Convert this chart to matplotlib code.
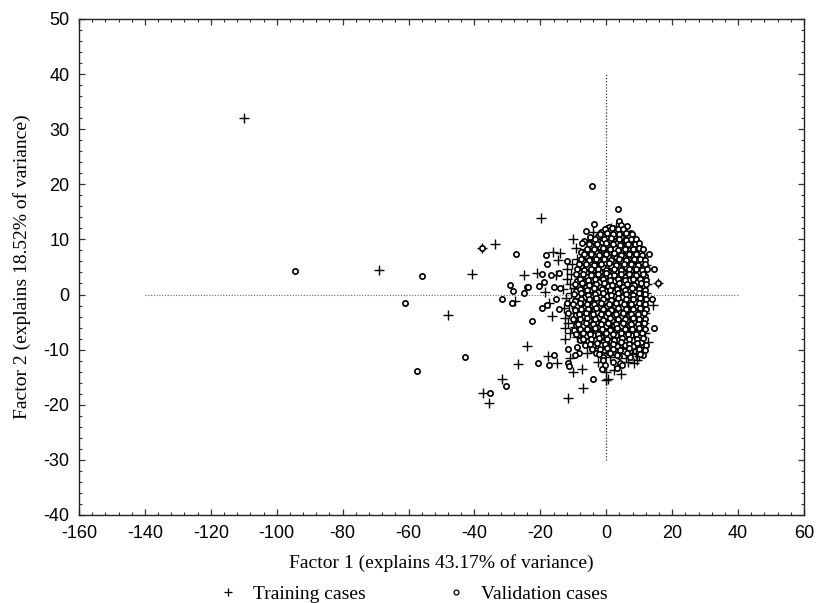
import numpy as np
import matplotlib
matplotlib.use("Agg")
import matplotlib.pyplot as plt
from matplotlib.ticker import MultipleLocator
from matplotlib.lines import Line2D

plt.rcParams["axes.unicode_minus"] = False

# outlying cases
trn_out_x = [-110.0, -69.0, -48.0, -40.7, -33.7, -37.7, -19.8, -25.0, -26.8, -24.0,
             -31.6, -37.4, -35.6, -27.7, -10.1, -4.0, -9.2, -5.5]
trn_out_y = [32.0, 4.5, -3.7, 3.7, 9.1, 8.4, 13.9, 3.5, -12.6, -9.3,
             -15.4, -17.9, -19.7, -1.2, 10.1, 11.3, 8.4, 9.9]

val_out_x = [-94.4, -61.0, -55.9, -57.4, -42.9, -37.7, -27.4, -30.4, -35.3, -31.6,
             -29.2, -28.3, -28.6, -25.0, -24.0, -4.3, -22.5, -18.3, -18.0, -11.9,
             -16.8, -14.3, -19.5, -18.9, -23.7, -20.4, -15.8, -14.0, -19.5, -18.0,
             -15.2, -14.3, -11.9, -11.6, -20.7, -17.4, -15.8, -11.6, -11.3, -3.7,
             -6.1, -6.7, -7.3, 3.6, 3.9, -4.0]
val_out_y = [4.3, -1.5, 3.4, -13.9, -11.3, 8.4, 7.4, -16.6, -17.9, -0.8,
             1.7, 0.6, -1.5, 0.3, 1.4, 19.7, -4.8, 7.2, 5.5, 6.1,
             3.5, 3.9, 3.7, 2.3, 1.4, 1.6, 1.4, 1.2, -2.4, -1.9,
             -0.8, -2.6, -1.5, -3.4, -12.4, -12.8, -11.0, -12.4, -13.0, 12.8,
             11.5, 9.7, 9.3, 15.5, 13.3, -15.4]

# dense core, validation cases
val_core_x = [
    0.8, 2.1, 6.3, 4.5,
    -1.5, 1.2, 3.0, 5.2, 7.4,
    -2.6, 0.3, 2.4, 4.6, 6.8, 8.5, -5.0,
    -3.8, -1.2, 1.0, 3.3, 5.6, 7.9, 9.4,
    -4.5, -2.0, 0.2, 2.6, 4.9, 7.1, 9.0, 10.2,
    -5.2, -3.1, -0.9, 1.4, 3.7, 6.0, 8.2, 10.4, -7.6, 13.0,
    -6.3, -4.0, -1.7, 0.6, 2.9, 5.2, 7.5, 9.6, 11.0,
    -7.0, -4.8, -2.5, -0.3, 2.0, 4.4, 6.7, 8.9, 10.8,
    -7.8, -5.5, -3.3, -1.0, 1.3, 3.6, 5.9, 8.1, 10.3, 11.4,
    -8.4, -6.2, -4.0, -1.8, 0.5, 2.8, 5.1, 7.4, 9.6, 11.2, 14.5,
    -8.0, -5.8, -3.5, -1.2, 1.1, 3.4, 5.7, 8.0, 10.2, 11.6,
    -9.0, -6.7, -4.4, -2.2, 0.1, 2.4, 4.7, 7.0, 9.3, 11.0, 15.7,
    -8.6, -6.3, -4.1, -1.9, 0.4, 2.7, 5.0, 7.3, 9.5, 11.3,
    -9.2, -7.0, -4.8, -2.6, -0.3, 2.0, 4.3, 6.6, 8.8, 10.7,
    -8.8, -6.5, -4.2, -2.0, 0.3, 2.6, 4.9, 7.2, 9.4, 11.0, 13.9,
    -9.4, -7.1, -4.9, -2.7, -0.4, 1.9, 4.2, 6.5, 8.7, 10.5,
    -8.9, -6.6, -4.3, -2.1, 0.2, 2.5, 4.8, 7.1, 9.3, 10.9,
    -9.6, -7.3, -5.1, -2.8, -0.5, 1.8, 4.1, 6.4, 8.6, 10.4,
    -9.1, -6.8, -4.5, -2.3, 0.0, 2.3, 4.6, 6.9, 9.1, 10.8,
    -9.8, -7.5, -5.2, -3.0, -0.7, 1.6, 3.9, 6.2, 8.4, 10.2,
    -9.3, -7.0, -4.7, -2.4, -0.1, 2.2, 4.5, 6.8, 9.0, 10.6,
    -9.9, -7.6, -5.4, -3.1, -0.8, 1.5, 3.8, 6.1, 8.3, 10.0, 14.5,
    -8.5, -6.2, -3.9, -1.6, 0.7, 3.0, 5.3, 7.6, 9.8,
    -7.9, -5.6, -3.3, -1.0, 1.3, 3.6, 5.9, 8.2, 10.5, 12.1,
    -6.4, -3.9, -1.5, 0.9, 3.3, 5.8, 8.0, 11.8, -8.9,
    -3.1, 0.5, -0.7, 2.8, 5.5, 11.2, -8.3, -9.5,
    -1.0, 1.9, 4.0, 7.2, -11.6,
    4.2, -1.0, 4.8, -0.4, 2.0,
    3.3, -1.3,
]
val_core_y = [
    12.3, 12.1, 12.4, 12.7,
    11.4, 11.7, 11.3, 11.6, 11.2,
    10.6, 10.3, 10.7, 10.4, 10.6, 10.2, 10.5,
    9.7, 9.5, 9.8, 9.4, 9.7, 9.6, 9.3,
    8.8, 8.6, 8.9, 8.5, 8.7, 8.9, 8.6, 8.4,
    7.9, 7.7, 8.0, 7.6, 7.8, 7.9, 7.5, 7.7, 7.8, 7.4,
    6.9, 7.1, 6.8, 7.0, 6.7, 6.9, 7.1, 6.8, 6.6,
    6.1, 5.9, 6.2, 5.8, 6.0, 6.1, 5.9, 6.2, 5.8,
    5.2, 5.0, 5.3, 4.9, 5.1, 5.2, 4.9, 5.3, 5.0, 5.1,
    4.3, 4.1, 4.4, 4.0, 4.2, 4.3, 4.1, 4.4, 4.0, 4.2, 4.6,
    3.4, 3.2, 3.5, 3.1, 3.3, 3.4, 3.2, 3.5, 3.1, 3.3,
    2.5, 2.3, 2.6, 2.2, 2.4, 2.5, 2.3, 2.6, 2.2, 2.4, 2.1,
    1.6, 1.4, 1.7, 1.3, 1.5, 1.6, 1.4, 1.7, 1.3, 1.5,
    0.7, 0.5, 0.8, 0.4, 0.6, 0.7, 0.5, 0.8, 0.4, 0.6,
    -0.2, -0.4, -0.1, -0.5, -0.3, -0.2, -0.4, -0.1, -0.5, -0.3, -0.8,
    -1.1, -1.3, -1.0, -1.4, -1.2, -1.1, -1.3, -1.0, -1.4, -1.2,
    -2.0, -2.2, -1.9, -2.3, -2.1, -2.0, -2.2, -1.9, -2.3, -2.1,
    -2.9, -3.1, -2.8, -3.2, -3.0, -2.9, -3.1, -2.8, -3.2, -3.0,
    -3.8, -4.0, -3.7, -4.1, -3.9, -3.8, -4.0, -3.7, -4.1, -3.9,
    -4.7, -4.9, -4.6, -5.0, -4.8, -4.7, -4.9, -4.6, -5.0, -4.8,
    -5.6, -5.8, -5.5, -5.9, -5.7, -5.6, -5.8, -5.5, -5.9, -5.7,
    -6.5, -6.7, -6.4, -6.8, -6.6, -6.5, -6.7, -6.4, -6.8, -6.6, -6.1,
    -7.4, -7.6, -7.3, -7.7, -7.5, -7.4, -7.6, -7.3, -7.7,
    -8.3, -8.5, -8.2, -8.6, -8.4, -8.3, -8.5, -8.2, -8.6, -9.2,
    -9.2, -9.4, -9.1, -9.5, -9.3, -9.2, -9.4, -10.1, -9.5,
    -10.6, -10.5, -10.1, -10.3, -10.2, -11.0, -10.6, -11.0,
    -11.3, -10.5, -11.1, -11.3, -9.9,
    -12.4, -11.9, -12.8, -12.8, -12.2,
    -13.3, -13.6,
]

# extra validation cases filling the gaps of the core
val_fill_x = [
    -0.3, 1.6, 3.6, 5.0,
    -2.0, 0.1, 2.0, 4.0, 6.1, 7.9,
    -3.3, -0.6, 1.5, 3.8, 5.9, 7.6, 9.0,
    -5.1, -2.7, -0.2, 2.1, 4.3, 6.6, 8.7, 10.0,
    -6.0, -3.6, -1.1, 1.2, 3.5, 5.8, 8.0, 9.8, 11.1,
    -6.8, -4.5, -2.3, 0.0, 2.3, 4.6, 6.9, 9.0, 10.9,
    -7.6, -5.3, -3.0, -0.8, 1.5, 3.8, 6.0, 8.3, 10.2, 11.8,
    -8.2, -6.1, -3.8, -1.6, 0.7, 3.0, 5.3, 7.6, 9.7, 11.9,
    -9.0, -6.9, -4.6, -2.4, -0.1, 2.2, 4.5, 6.8, 9.0, 10.8, 12.3,
    -9.3, -7.0, -4.7, -2.4, -0.1, 2.2, 4.5, 6.8, 9.1, 11.0,
    -8.0, -5.6, -3.3, -1.1, 1.2, 3.5, 5.8, 8.1, 10.2, 12.0,
    -9.6, -7.4, -5.2, -3.0, -0.7, 1.6, 3.9, 6.2, 8.4, 10.4, 12.2,
    -8.1, -5.9, -3.6, -1.3, 1.0, 3.3, 5.6, 7.9, 10.0, 11.9,
    -9.9, -7.8, -5.5, -3.3, -1.0, 1.3, 3.6, 5.9, 8.1, 10.0, 11.8,
    -7.6, -5.3, -3.1, -0.9, 1.4, 3.7, 6.0, 8.2, 10.2, 12.1,
    -10.0, -8.0, -5.9, -3.7, -1.5, 0.8, 3.1, 5.4, 7.6, 9.8, 11.6,
    -7.7, -5.5, -3.2, -1.0, 1.3, 3.6, 5.9, 8.1, 10.1, 12.0,
    -8.4, -6.2, -3.9, -1.7, 0.6, 2.9, 5.2, 7.5, 9.7, 11.4,
    -10.2, -7.9, -5.7, -3.4, -1.1, 1.2, 3.5, 5.8, 8.0, 9.9, 11.8,
    -8.5, -6.2, -3.9, -1.7, 0.6, 2.9, 5.2, 7.5, 9.6, 11.4,
    -8.1, -5.8, -3.5, -1.3, 1.0, 3.3, 5.6, 7.9, 9.9, 11.6,
    -9.3, -7.0, -4.8, -2.5, -0.2, 2.1, 4.4, 6.7, 8.9, 10.8,
    -7.2, -4.6, -2.2, 0.1, 2.4, 4.7, 7.0, 9.2, 11.2,
    -5.0, -2.7, -0.3, 2.1, 4.5, 6.9, 9.3,
    -4.3, -2.0, 0.2, 1.9, 4.2, 7.0, 9.8,
    -2.2, 1.0, 3.2, 6.3, 10.3,
]
val_fill_y = [
    11.9, 12.0, 11.8, 11.9,
    11.0, 11.1, 10.9, 11.0, 11.2, 10.9,
    10.1, 10.0, 10.2, 10.1, 9.9, 10.1, 10.0,
    9.2, 9.1, 9.3, 9.2, 9.0, 9.2, 9.1, 9.3,
    8.3, 8.2, 8.4, 8.3, 8.1, 8.3, 8.2, 8.4, 8.2,
    7.3, 7.4, 7.2, 7.3, 7.5, 7.2, 7.4, 7.3, 7.2,
    6.4, 6.3, 6.5, 6.4, 6.2, 6.4, 6.3, 6.5, 6.4, 6.2,
    5.5, 5.6, 5.4, 5.5, 5.7, 5.4, 5.6, 5.5, 5.4, 5.6,
    4.6, 4.5, 4.7, 4.6, 4.4, 4.6, 4.5, 4.7, 4.6, 4.5, 4.7,
    3.7, 3.8, 3.6, 3.7, 3.9, 3.6, 3.8, 3.7, 3.6, 3.8,
    2.8, 2.7, 2.9, 2.8, 2.6, 2.8, 2.7, 2.9, 2.8, 2.7,
    1.9, 2.0, 1.8, 1.9, 2.1, 1.8, 2.0, 1.9, 1.8, 2.0, 1.9,
    1.0, 0.9, 1.1, 1.0, 0.8, 1.0, 0.9, 1.1, 1.0, 0.9,
    0.1, 0.2, 0.0, 0.1, 0.3, 0.0, 0.2, 0.1, 0.0, 0.2, 0.1,
    -0.8, -0.9, -0.7, -0.8, -1.0, -0.7, -0.9, -0.8, -0.7, -0.9,
    -1.7, -1.6, -1.8, -1.7, -1.5, -1.7, -1.6, -1.8, -1.7, -1.6, -1.8,
    -2.6, -2.7, -2.5, -2.6, -2.8, -2.5, -2.7, -2.6, -2.5, -2.7,
    -3.5, -3.4, -3.6, -3.5, -3.3, -3.5, -3.4, -3.6, -3.5, -3.4,
    -4.4, -4.5, -4.3, -4.4, -4.6, -4.3, -4.5, -4.4, -4.3, -4.5, -4.4,
    -5.3, -5.2, -5.4, -5.3, -5.1, -5.3, -5.2, -5.4, -5.3, -5.2,
    -6.2, -6.3, -6.1, -6.2, -6.4, -6.1, -6.3, -6.2, -6.1, -6.3,
    -7.1, -7.0, -7.2, -7.1, -6.9, -7.1, -7.0, -7.2, -7.1, -7.0,
    -8.0, -8.1, -7.9, -8.0, -8.2, -7.9, -8.1, -8.0, -7.9,
    -8.9, -8.8, -9.0, -8.9, -8.7, -8.9, -8.8,
    -9.8, -9.9, -9.7, -9.8, -10.0, -9.7, -9.9,
    -10.8, -10.7, -10.9, -10.6, -10.8,
]

# dense core, training cases
trn_core_x = [
    1.5, 3.0,
    -0.5, 2.2, 5.6,
    -1.8, 1.7, 4.1, 6.9,
    -3.0, 0.8, 3.5, 6.2, 8.4,
    -6.0, -1.0, 2.0, 5.0, 8.9, 9.7,
    -16.2, -14.0, -4.3, -0.2, 3.1, 6.5, 10.5,
    -14.6, -8.8, -5.5, -2.2, 1.0, 4.2, 7.8, 10.0,
    -10.5, -6.8, -3.6, -0.5, 2.6, 5.8, 9.1, 12.0,
    -11.8, -7.5, -4.7, -1.4, 1.9, 5.0, 8.3, 11.0,
    -15.2, -21.0, -10.6, -6.0, -2.8, 0.6, 3.9, 7.2, 10.5,
    -12.0, -8.4, -5.2, -1.8, 1.5, 4.8, 8.0, 11.4,
    -11.0, -7.6, -4.1, -0.9, 2.4, 5.6, 9.0, 12.5, 15.7,
    -13.0, -9.7, -6.3, -3.0, 0.3, 3.6, 6.9, 10.2,
    -18.6, -10.8, -7.2, -3.8, -0.6, 2.7, 6.0, 9.3, 12.0,
    -12.3, -8.9, -5.6, -2.2, 1.2, 4.5, 7.8, 11.1,
    -17.4, -11.4, -8.0, -4.7, -1.3, 2.0, 5.3, 8.6, 14.2,
    -12.8, -9.3, -6.0, -2.6, 0.7, 4.0, 7.3, 10.6,
    -11.2, -7.8, -4.4, -1.1, 2.2, 5.5, 8.8, 11.8,
    -16.4, -12.4, -9.0, -5.7, -2.3, 1.0, 4.3, 7.6, 10.9,
    -11.6, -8.2, -4.9, -1.5, 1.8, 5.1, 8.4, 11.5,
    -12.6, -9.6, -6.3, -3.0, 0.4, 3.7, 7.0, 10.3,
    -11.0, -7.7, -4.3, -0.9, 2.4, 5.7, 9.0, 11.9,
    -12.5, -9.0, -5.8, -2.5, 0.9, 4.2, 7.5, 10.7,
    -7.0, -3.7, -0.3, 3.0, 6.3, 9.7, 12.7,
    -5.0, -1.8, 1.6, 4.9, 8.2, 10.6,
    -6.0, -2.5, 3.4, 7.8, 9.0,
    -11.0, -17.7, 10.0, 9.4, 1.2, 5.9,
    -14.9, -2.5, 6.5, 8.4,
    -7.3, 2.2,
    -10.1, 4.5, 0.0,
    0.0, 0.5,
    -7.0, -11.6,
]
trn_core_y = [
    12.0, 12.2,
    11.0, 10.8, 11.1,
    10.1, 10.3, 9.9, 10.2,
    9.0, 9.2, 8.9, 9.1, 8.8,
    8.2, 8.0, 8.3, 8.1, 8.2, 7.9,
    7.7, 7.5, 7.4, 7.3, 7.5, 7.2, 7.4,
    6.3, 6.4, 6.5, 6.3, 6.5, 6.4, 6.2, 6.5,
    5.5, 5.6, 5.4, 5.5, 5.7, 5.3, 5.5, 5.4,
    4.6, 4.7, 4.5, 4.6, 4.8, 4.5, 4.6, 4.7,
    3.5, 3.9, 3.7, 3.8, 3.6, 3.7, 3.8, 3.6, 3.7,
    2.8, 2.9, 2.7, 2.8, 3.0, 2.7, 2.9, 2.8,
    1.9, 2.0, 1.8, 1.9, 2.1, 1.8, 2.0, 1.9, 2.1,
    1.0, 1.1, 0.9, 1.0, 1.2, 0.9, 1.1, 1.0,
    0.5, 0.2, 0.3, 0.1, 0.2, 0.3, 0.1, 0.2, 0.3,
    -0.7, -0.6, -0.8, -0.7, -0.5, -0.8, -0.6, -0.7,
    -1.5, -1.6, -1.7, -1.5, -1.6, -1.8, -1.5, -1.6, -1.9,
    -2.5, -2.4, -2.6, -2.5, -2.3, -2.6, -2.4, -2.5,
    -3.4, -3.5, -3.3, -3.4, -3.6, -3.3, -3.5, -3.4,
    -3.9, -4.2, -4.3, -4.1, -4.2, -4.4, -4.1, -4.3, -4.2,
    -5.1, -5.0, -5.2, -5.1, -4.9, -5.2, -5.0, -5.1,
    -6.0, -5.9, -6.1, -6.0, -5.8, -6.1, -5.9, -6.0,
    -6.9, -7.0, -6.8, -6.9, -7.1, -6.8, -7.0, -6.9,
    -8.1, -7.8, -7.9, -7.7, -7.8, -8.0, -7.7, -7.8,
    -8.7, -8.8, -8.6, -8.7, -8.9, -8.6, -8.6,
    -9.6, -9.7, -9.5, -9.6, -9.8, -9.5,
    -10.6, -10.7, -10.5, -10.6, -10.8,
    -11.5, -11.2, -11.2, -11.9, -11.4, -11.5,
    -12.4, -12.2, -12.3, -12.5,
    -13.5, -13.7,
    -14.0, -14.4, -14.0,
    -15.6, -15.3,
    -16.9, -18.8,
]

train_x = trn_out_x + trn_core_x
train_y = trn_out_y + trn_core_y
valid_x = val_out_x + val_core_x + val_fill_x
valid_y = val_out_y + val_core_y + val_fill_y

fig = plt.figure(figsize=(8.16, 6.03), dpi=100)
ax = fig.add_axes([0.0968, 0.146, 0.8885, 0.8226])

# dotted reference axes
ax.plot([-140, 40], [0, 0], ls=(0, (1, 1.5)), color="#666666", lw=0.8, zorder=1)
ax.plot([0, 0], [-30, 40], ls=(0, (1, 1.5)), color="#333333", lw=0.9, zorder=1)

ax.plot(train_x, train_y, ls="none", marker="+", ms=6.5, mew=1.0, color="black", zorder=2)
ax.plot(valid_x, valid_y, ls="none", marker="o", ms=3.8, mew=1.2, mfc="white",
        mec="black", zorder=3)

ax.set_xlim(-160, 60)
ax.set_ylim(-40, 50)
ax.xaxis.set_major_locator(MultipleLocator(20))
ax.xaxis.set_minor_locator(MultipleLocator(4))
ax.yaxis.set_major_locator(MultipleLocator(10))
ax.yaxis.set_minor_locator(MultipleLocator(2))
ax.tick_params(which="both", direction="in", top=True, right=True, color="#333333")
ax.tick_params(which="major", length=4.5, width=0.9, labelsize=13, pad=7)
ax.tick_params(which="minor", length=2.5, width=0.8)
for lab in ax.get_xticklabels() + ax.get_yticklabels():
    lab.set_family("Liberation Sans")
for sp in ax.spines.values():
    sp.set_linewidth(1.0)
    sp.set_color("#222222")

ax.set_xlabel("Factor 1 (explains 43.17% of variance)", family="Liberation Serif",
              fontsize=14, labelpad=9)
ax.set_ylabel("Factor 2 (explains 18.52% of variance)", family="Liberation Serif",
              fontsize=14, labelpad=9)

handles = [
    Line2D([], [], ls="none", marker="+", ms=6, mew=0.9, color="black"),
    Line2D([], [], ls="none", marker="o", ms=3.5, mew=0.9, mfc="white", mec="black"),
]
fig.legend(handles, ["Training cases", "Validation cases"], loc="center",
           bbox_to_anchor=(0.5, 0.015), ncol=2, frameon=False, columnspacing=3.6,
           handletextpad=0.3, prop={"family": "Liberation Serif", "size": 14})

fig.savefig("out.png", dpi=100)
